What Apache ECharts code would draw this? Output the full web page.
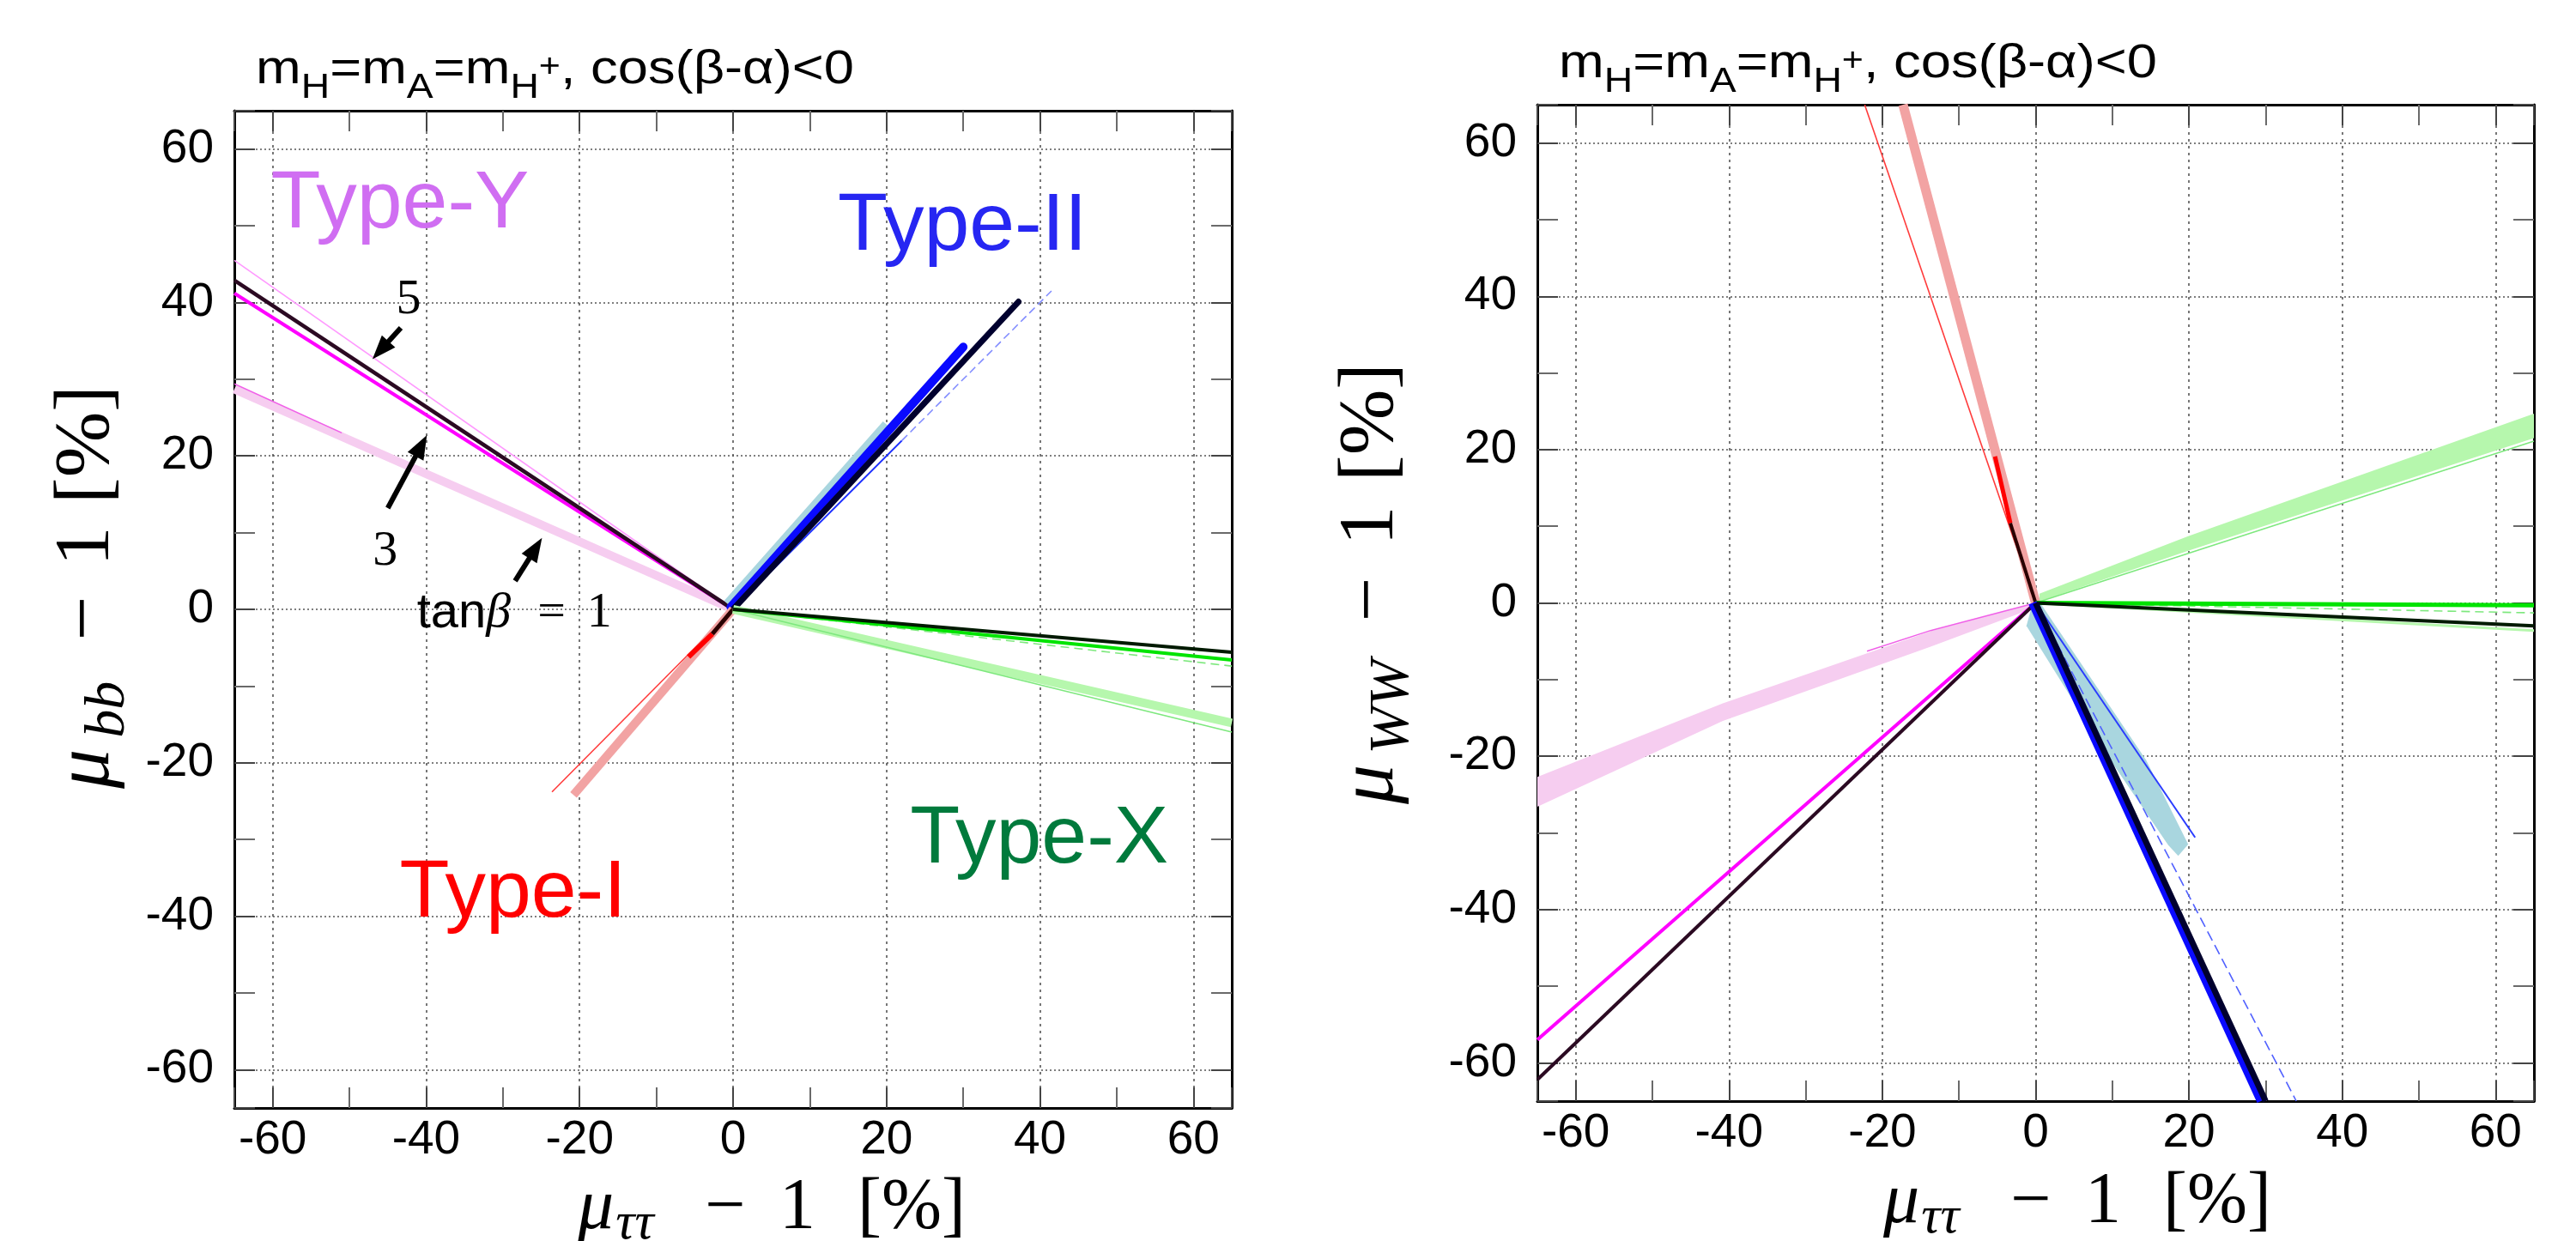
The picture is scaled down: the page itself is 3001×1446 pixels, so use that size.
<!DOCTYPE html>
<html>
<head>
<meta charset="utf-8">
<script src="https://cdn.jsdelivr.net/npm/echarts@6/dist/echarts.min.js"></script>
<style>
  html, body { margin: 0; padding: 0; background: #fff; }
  #c { width: 3001px; height: 1446px; }
</style>
</head>
<body>
<div id="c"></div>
<script>
// Axis ticks shared by both panels (percent deviations)
const TICK_VALUES = [-60, -40, -20, 0, 20, 40, 60];
const AXIS_RANGE = [-65, 65];

// ---------- Left panel: mu_bb - 1 versus mu_tautau - 1 [%] ----------
// Type-Y
const bbTypeYTb1 = [[0, 0], [-65, 28.7]];
const bbTypeYTb1Edge = [[-51, 23.0], [-65, 29.4]];
const bbTypeYTb5 = [[0, 0], [-65, 45.5]];
const bbTypeYTb3 = [[0, 0], [-65, 41.2]];
const bbTypeYDark = [[0, 0], [-65, 42.9]];
// Type-II
const bbTypeIIThin = [[0, 0], [22.0, 22.0]];
const bbTypeIIThinFaint = [[22.0, 22.0], [41.5, 41.5]];
const bbTypeIIBandLight = [[-0.7, 0.7], [20.0, 24.1]];
const bbTypeIIBand = [[-0.3, 0.3], [30.0, 34.2]];
const bbTypeIIDark = [[0, 0], [37.2, 40.1]];
// Type-I
const bbTypeIThin = [[0, 0], [-23.6, -23.8]];
const bbTypeIBand = [[0, 0], [-20.8, -24.2]];
const bbTypeISeg = [[-2.7, -3.2], [-5.8, -6.2]];
const bbTypeIDark = [[0, 0], [-2.7, -3.2]];
// Type-X
const bbTypeXBandLight = [[0, 0], [65, -14.8]];
const bbTypeXThinLight = [[0, 0], [65, -16.0]];
const bbTypeXDash = [[0, 0], [65, -7.4]];
const bbTypeXGreen = [[0, 0], [65, -6.6]];
const bbTypeXDark = [[0, 0], [65, -5.6]];

// ---------- Right panel: mu_WW - 1 versus mu_tautau - 1 [%] ----------
// Type-I
const wwTypeIThin = [[0, 0], [-22.3, 65]];
const wwTypeIBand = [[0, 0], [-17.3, 65]];
const wwTypeISeg = [[-3.3, 10.4], [-5.3, 19.1]];
const wwTypeIDark = [[0, 0], [-3.3, 10.4]];
// Type-X
const wwTypeXBandLight = [[0.5, 0.2], [19.9, 6.8], [65, 21.5], [65, 24.7], [19.9, 8.7], [0.5, 1.2]];
const wwTypeXThinLight = [[0, 0], [65, 21.1]];
const wwTypeXGreen = [[0, 0], [65, -0.3]];
const wwTypeXDash = [[0, 0], [65, -1.3]];
const wwTypeXDarkLight = [[0, 0], [65, -3.6]];
const wwTypeXDark = [[0, 0], [65, -3.0]];
// Type-Y
const wwTypeYBand = [[0, 0], [-13.7, -3.7], [-40.8, -13.1], [-65, -22.7], [-65, -26.6], [-40.8, -15.4], [-13.7, -5.7], [0, -0.6]];
const wwTypeYEdge = [[0, 0], [-13.7, -3.6], [-22, -6.3]];
const wwTypeYTb3 = [[0, 0], [-65, -57.0]];
const wwTypeYDark = [[0, 0], [-65, -62.2]];
// Type-II
const wwTypeIIDash = [[0, 0], [34.0, -65]];
const wwTypeIIBandLight = [[-0.3, 0.3], [0.6, 0], [14.4, -20.5], [19.9, -31.5], [18.6, -33.0], [17.3, -31.6], [9.4, -20.0], [-1.2, -3.0]];
const wwTypeIIThin = [[0, 0], [20.8, -30.6]];
const wwTypeIIBand = [[-0.4, 0], [29.4, -65]];
const wwTypeIIDark = [[0, 0], [30.0, -65]];

// ---------- Annotations (data coordinates of the left panel) ----------
const typeNames = ['Type-Y', 'Type-II', 'Type-I', 'Type-X'];
const typeLabelAt = [[-60.25, 53.3], [13.66, 50.4], [-43.45, -36.6], [23.07, -29.5]];
const tanbLabels = ['5', '3', 'tanβ = 1'];
const tanbLabelAt = [[-42.3, 40.3], [-45.35, 7.5], [-28.5, -0.55]];
const arrowData = [[-43.3, 36.7, -47.0, 32.6], [-45.0, 13.2, -39.9, 22.7], [-28.4, 3.7, -24.9, 9.3]];

// ---------- Layout ----------
const PANELS = [
  { left: 273, top: 129, size: 1162 },
  { left: 1791, top: 122, size: 1161 }
];
const TYPE_COLORS = { Y: '#d06ef2', II: '#2626f2', I: '#ff0000', X: '#007a3c' };
const SANS = 'Liberation Sans';
const SERIF = 'Liberation Serif';

const chart = echarts.init(document.getElementById('c'), null, { renderer: 'canvas', width: 3001, height: 1446 });

function isTick(v) {
  const r = Math.round(v);
  return Math.abs(v - r) < 1e-6 && TICK_VALUES.indexOf(r) >= 0;
}

function makeAxis(dim, gridIndex, position, primary) {
  const isX = dim === 'x';
  return {
    type: 'value', gridIndex, position,
    min: AXIS_RANGE[0], max: AXIS_RANGE[1],
    minInterval: 20, maxInterval: 20, splitNumber: 6,
    axisLine: { show: true, onZero: false, lineStyle: { color: '#000', width: 3 } },
    axisTick: { show: true, inside: true, length: 24, lineStyle: { color: '#444', width: 2 } },
    minorTick: { show: true, splitNumber: 2, length: 24, lineStyle: { color: '#6a6a6a', width: 2 } },
    axisLabel: {
      show: primary, margin: isX ? 10 : 24,
      fontSize: 55, fontFamily: SANS, color: '#000',
      formatter: v => (isTick(v) ? String(Math.round(v)) : '')
    },
    splitLine: {
      show: primary,
      lineStyle: isX ? { color: '#555', width: 1.6, type: [3, 5] } : { color: '#555', width: 1.6, type: [2, 3] }
    },
    minorSplitLine: { show: false }
  };
}

const xAxes = [], yAxes = [], grids = [];
PANELS.forEach((p, i) => {
  grids.push({ left: p.left, top: p.top, width: p.size, height: p.size, containLabel: false, outerBoundsMode: 'none', show: false });
  xAxes.push(makeAxis('x', i, 'bottom', true), makeAxis('x', i, 'top', false));
  yAxes.push(makeAxis('y', i, 'left', true), makeAxis('y', i, 'right', false));
});

const series = [];
function addLine(panel, data, color, width, dash, cap) {
  series.push({
    type: 'line', xAxisIndex: panel * 2, yAxisIndex: panel * 2,
    data, symbol: 'none', silent: true, animation: false, clip: true,
    lineStyle: { color, width, type: dash || 'solid', cap: cap || 'butt', join: 'round' },
    emphasis: { disabled: true }, z: 3
  });
}
function addBand(panel, poly, color) {
  series.push({
    type: 'custom', xAxisIndex: panel * 2, yAxisIndex: panel * 2,
    data: poly, encode: { x: 0, y: 1 }, silent: true, animation: false, clip: true, z: 3,
    renderItem: (params, api) => params.dataIndex === 0
      ? { type: 'polygon', shape: { points: poly.map(pt => api.coord(pt)) }, style: { fill: color } }
      : null
  });
}

// Left panel curves
addLine(0, bbTypeYTb1, '#f6cdf0', 10);
addLine(0, bbTypeYTb1Edge, '#f060e8', 1.5);
addLine(0, bbTypeYTb5, '#ff99ff', 1.6);
addLine(0, bbTypeYTb3, '#ff00ff', 4);
addLine(0, bbTypeYDark, '#2b0a22', 4.5);
addLine(0, bbTypeIIThin, '#1a2cff', 2);
addLine(0, bbTypeIIThinFaint, '#7d88ff', 1.5, [9, 5]);
addLine(0, bbTypeIIBandLight, '#a9d6df', 11);
addLine(0, bbTypeIIBand, '#0a0aff', 10, null, 'round');
addLine(0, bbTypeIIDark, '#00002e', 7, null, 'round');
addLine(0, bbTypeIThin, '#ff3b3b', 1.6);
addLine(0, bbTypeIBand, '#f2a3a3', 10);
addLine(0, bbTypeISeg, '#ff0000', 6);
addLine(0, bbTypeIDark, '#2a0000', 5);
addLine(0, bbTypeXBandLight, '#b6f7ad', 10);
addLine(0, bbTypeXThinLight, '#7ee87e', 1.6);
addLine(0, bbTypeXDash, '#7ee87e', 1.6, [10, 6]);
addLine(0, bbTypeXGreen, '#00e400', 4);
addLine(0, bbTypeXDark, '#001a00', 4);

// Right panel curves
addLine(1, wwTypeIThin, '#ff3b3b', 1.6);
addLine(1, wwTypeIBand, '#f2a3a3', 11);
addLine(1, wwTypeISeg, '#ff0000', 5);
addLine(1, wwTypeIDark, '#2a0000', 4);
addBand(1, wwTypeXBandLight, '#b6f7ad');
addLine(1, wwTypeXThinLight, '#7ee87e', 1.6);
addLine(1, wwTypeXDash, '#7ee87e', 1.6, [10, 6]);
addLine(1, wwTypeXDarkLight, '#b6f7ad', 3);
addLine(1, wwTypeXGreen, '#00e400', 5);
addLine(1, wwTypeXDark, '#001a00', 4);
addBand(1, wwTypeYBand, '#f6cdf0');
addLine(1, wwTypeYEdge, '#f060e8', 1.5);
addLine(1, wwTypeYTb3, '#ff00ff', 4);
addLine(1, wwTypeYDark, '#2b0a22', 4);
addLine(1, wwTypeIIDash, '#5060ff', 1.6, [12, 6]);
addBand(1, wwTypeIIBandLight, '#a9d6df');
addLine(1, wwTypeIIThin, '#2a3cff', 2);
addLine(1, wwTypeIIBand, '#0a0aff', 10);
addLine(1, wwTypeIIDark, '#00002e', 7);

// Arrows pointing at the tan(beta) curves
series.push({
  type: 'custom', xAxisIndex: 0, yAxisIndex: 0, data: arrowData,
  encode: { x: [0, 2], y: [1, 3] }, silent: true, animation: false, z: 6,
  renderItem: (params, api) => {
    const p1 = api.coord([api.value(0), api.value(1)]);
    const p2 = api.coord([api.value(2), api.value(3)]);
    const dx = p2[0] - p1[0], dy = p2[1] - p1[1];
    const L = Math.hypot(dx, dy), ux = dx / L, uy = dy / L;
    const hl = 28, hw = 10.5;
    const b = [p2[0] - ux * hl, p2[1] - uy * hl];
    return {
      type: 'group', children: [
        { type: 'line', shape: { x1: p1[0], y1: p1[1], x2: b[0] + ux * 3, y2: b[1] + uy * 3 }, style: { stroke: '#000', lineWidth: 6 } },
        { type: 'polygon', shape: { points: [p2, [b[0] - uy * hw, b[1] + ux * hw], [b[0] + uy * hw, b[1] - ux * hw]] }, style: { fill: '#000' } }
      ]
    };
  }
});

// Model names
const typeColorList = [TYPE_COLORS.Y, TYPE_COLORS.II, TYPE_COLORS.I, TYPE_COLORS.X];
series.push({
  type: 'custom', xAxisIndex: 0, yAxisIndex: 0, data: typeLabelAt,
  encode: { x: 0, y: 1 }, silent: true, animation: false, z: 6,
  renderItem: (params, api) => {
    const p = api.coord([api.value(0), api.value(1)]);
    return {
      type: 'text', x: p[0], y: p[1] + 5,
      style: { text: typeNames[params.dataIndex], fill: typeColorList[params.dataIndex], fontSize: 95, fontFamily: SANS, textAlign: 'left', textVerticalAlign: 'middle' }
    };
  }
});

// tan(beta) values
series.push({
  type: 'custom', xAxisIndex: 0, yAxisIndex: 0, data: tanbLabelAt,
  encode: { x: 0, y: 1 }, silent: true, animation: false, z: 6,
  renderItem: (params, api) => {
    const p = api.coord([api.value(0), api.value(1)]);
    const t = tanbLabels[params.dataIndex];
    let text;
    if (t.indexOf('tan') === 0) {
      const parts = t.split('β');
      text = '{t|' + parts[0] + '}{b|β}{e|=}{o|' + parts[1].replace('=', '').trim() + '}';
    } else {
      text = '{o|' + t + '}';
    }
    return {
      type: 'text', x: p[0], y: p[1],
      style: {
        text, fill: '#000', textAlign: 'center', textVerticalAlign: 'middle',
        rich: {
          t: { fontSize: 58, fontFamily: SANS, fill: '#000', verticalAlign: 'middle' },
          b: { fontSize: 58, fontFamily: SERIF, fontStyle: 'italic', fill: '#000', verticalAlign: 'middle' },
          e: { fontSize: 58, fontFamily: SERIF, fill: '#000', padding: [0, 25, 0, 31], verticalAlign: 'middle' },
          o: { fontSize: 58, fontFamily: SERIF, fill: '#000', verticalAlign: 'middle' }
        }
      }
    };
  }
});

// Panel headings
function heading(x, baseline) {
  return {
    type: 'text', x, y: baseline - 17.4, scaleX: 1.13, silent: true,
    style: {
      text: '{m|m}{s|H}{m|=m}{s|A}{m|=m}{s|H}{p|+}{m|, cos(β-α)<0}',
      fill: '#000', textAlign: 'left', textVerticalAlign: 'middle',
      rich: {
        m: { fontSize: 56, fontFamily: SANS, fill: '#000', verticalAlign: 'middle' },
        s: { fontSize: 41, fontFamily: SANS, fill: '#000', padding: [44, 0, 0, 0], verticalAlign: 'middle' },
        p: { fontSize: 38, fontFamily: SANS, fill: '#000', padding: [0, 0, 6, 0], verticalAlign: 'middle' }
      }
    }
  };
}

// Axis titles: mu_sub - 1 [%]
function axisTitle(x, y, sub, rotated, size, subSize, subPad, gaps) {
  const rich = {
    mu: { fontSize: size, fontFamily: SERIF, fontStyle: 'italic', fill: '#000', verticalAlign: 'middle' },
    sub: { fontSize: subSize, fontFamily: SERIF, fontStyle: 'italic', fill: '#000', padding: [subPad, 0, 0, gaps[0]], verticalAlign: 'middle' },
    op: { fontSize: size, fontFamily: SERIF, fill: '#000', padding: [0, gaps[2], 0, gaps[1]], verticalAlign: 'middle' },
    n: { fontSize: size, fontFamily: SERIF, fill: '#000', padding: [0, gaps[3], 0, 0], verticalAlign: 'middle' },
    pct: { fontSize: size, fontFamily: SERIF, fill: '#000', verticalAlign: 'middle' }
  };
  return {
    type: 'text', x, y, rotation: rotated ? Math.PI / 2 : 0, silent: true,
    style: {
      text: '{mu|μ}{sub|' + sub + '}{op|−}{n|1}{pct|[%]}',
      fill: '#000', textAlign: 'center', textVerticalAlign: 'middle', rich
    }
  };
}

chart.setOption({
  animation: false,
  backgroundColor: '#fff',
  grid: grids,
  xAxis: xAxes,
  yAxis: yAxes,
  series,
  graphic: {
    elements: [
      heading(298, 98.5),
      heading(1816, 91.5),
      axisTitle(101.5, 684, 'bb', true, 92, 66, 50, [13, 47.5, 35, 26.5]),
      axisTitle(1597.5, 680, 'WW', true, 92, 66, 50, [12, 44.5, 37, 28.5]),
      axisTitle(899, 1409, 'ττ', false, 84, 62, 36, [2, 59.5, 39.5, 49]),
      axisTitle(2420, 1402, 'ττ', false, 84, 62, 36, [2, 59.5, 39.5, 49])
    ]
  }
});
</script>
</body>
</html>
